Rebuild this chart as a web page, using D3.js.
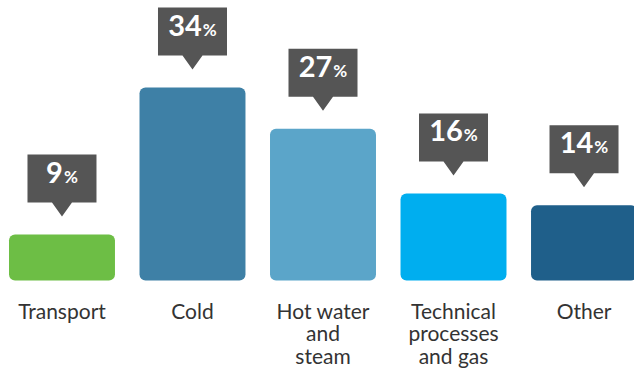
<!DOCTYPE html>
<html>
<head>
<meta charset="utf-8">
<script src="https://cdn.jsdelivr.net/npm/d3@7/dist/d3.min.js"></script>
<style>
  html, body { margin: 0; padding: 0; background: #ffffff; }
  svg { display: block; }
</style>
</head>
<body>
<svg id="chart" width="634" height="372"></svg>
<script>
const categories = ["Transport", "Cold", "Hot water and steam", "Technical processes and gas", "Other"];
const labelLines = [["Transport"], ["Cold"], ["Hot water", "and", "steam"], ["Technical", "processes", "and gas"], ["Other"]];
const values = [9, 34, 27, 16, 14];
const colors = ["#6dbe45", "#3e80a6", "#5ba5c9", "#00aeef", "#1f5f8a"];

const svg = d3.select("#chart");
const baseY = 280.5;

const x = d3.scaleBand()
  .domain(categories)
  .range([9, 637])
  .paddingInner(0.188)
  .paddingOuter(0);

const y = d3.scaleLinear()
  .domain([0, 34])
  .range([287.5, 87.5]);

const font = "Lato, 'Open Sans', sans-serif";

const g = svg.append("g");

// bars
g.selectAll("rect.bar")
  .data(values)
  .join("rect")
  .attr("class", "bar")
  .attr("x", (d, i) => x(categories[i]))
  .attr("y", d => y(d))
  .attr("width", x.bandwidth())
  .attr("height", d => baseY - y(d))
  .attr("rx", 6)
  .attr("ry", 6)
  .attr("fill", (d, i) => colors[i]);

// callout boxes
const boxW = 69, boxH = 48, tipH = 14, tipHalf = 10, gap = 18;
const callouts = g.selectAll("g.callout")
  .data(values)
  .join("g")
  .attr("class", "callout")
  .attr("transform", (d, i) => {
    const cx = x(categories[i]) + x.bandwidth() / 2;
    const tipY = y(d) - gap;
    return `translate(${cx},${tipY})`;
  });

callouts.append("path")
  .attr("d", () => {
    const top = -tipH - boxH, bot = -tipH;
    return `M${-boxW/2},${top} H${boxW/2} V${bot} H${tipHalf} L0,0 L${-tipHalf},${bot} H${-boxW/2} Z`;
  })
  .attr("fill", "#555555");

const t = callouts.append("text")
  .attr("x", 0)
  .attr("y", -tipH - boxH + 28)
  .attr("text-anchor", "middle")
  .attr("fill", "#ffffff")
  .attr("font-family", font);
t.append("tspan")
  .attr("font-size", 29)
  .attr("font-weight", 700)
  .text(d => d);
t.append("tspan")
  .attr("font-size", 17)
  .attr("font-weight", 700)
  .attr("dx", 1)
  .text("%");

// category labels
const labels = g.selectAll("text.cat")
  .data(labelLines)
  .join("text")
  .attr("class", "cat")
  .attr("text-anchor", "middle")
  .attr("font-family", font)
  .attr("font-size", 21)
  .attr("fill", "#333333")
  .attr("x", (d, i) => x(categories[i]) + x.bandwidth() / 2)
  .attr("y", 318.5);

labels.selectAll("tspan")
  .data((d, i) => d.map(s => ({ s, i })))
  .join("tspan")
  .attr("x", d => x(categories[d.i]) + x.bandwidth() / 2)
  .attr("dy", (d, j) => j === 0 ? 0 : 22.5)
  .text(d => d.s);
</script>
</body>
</html>
